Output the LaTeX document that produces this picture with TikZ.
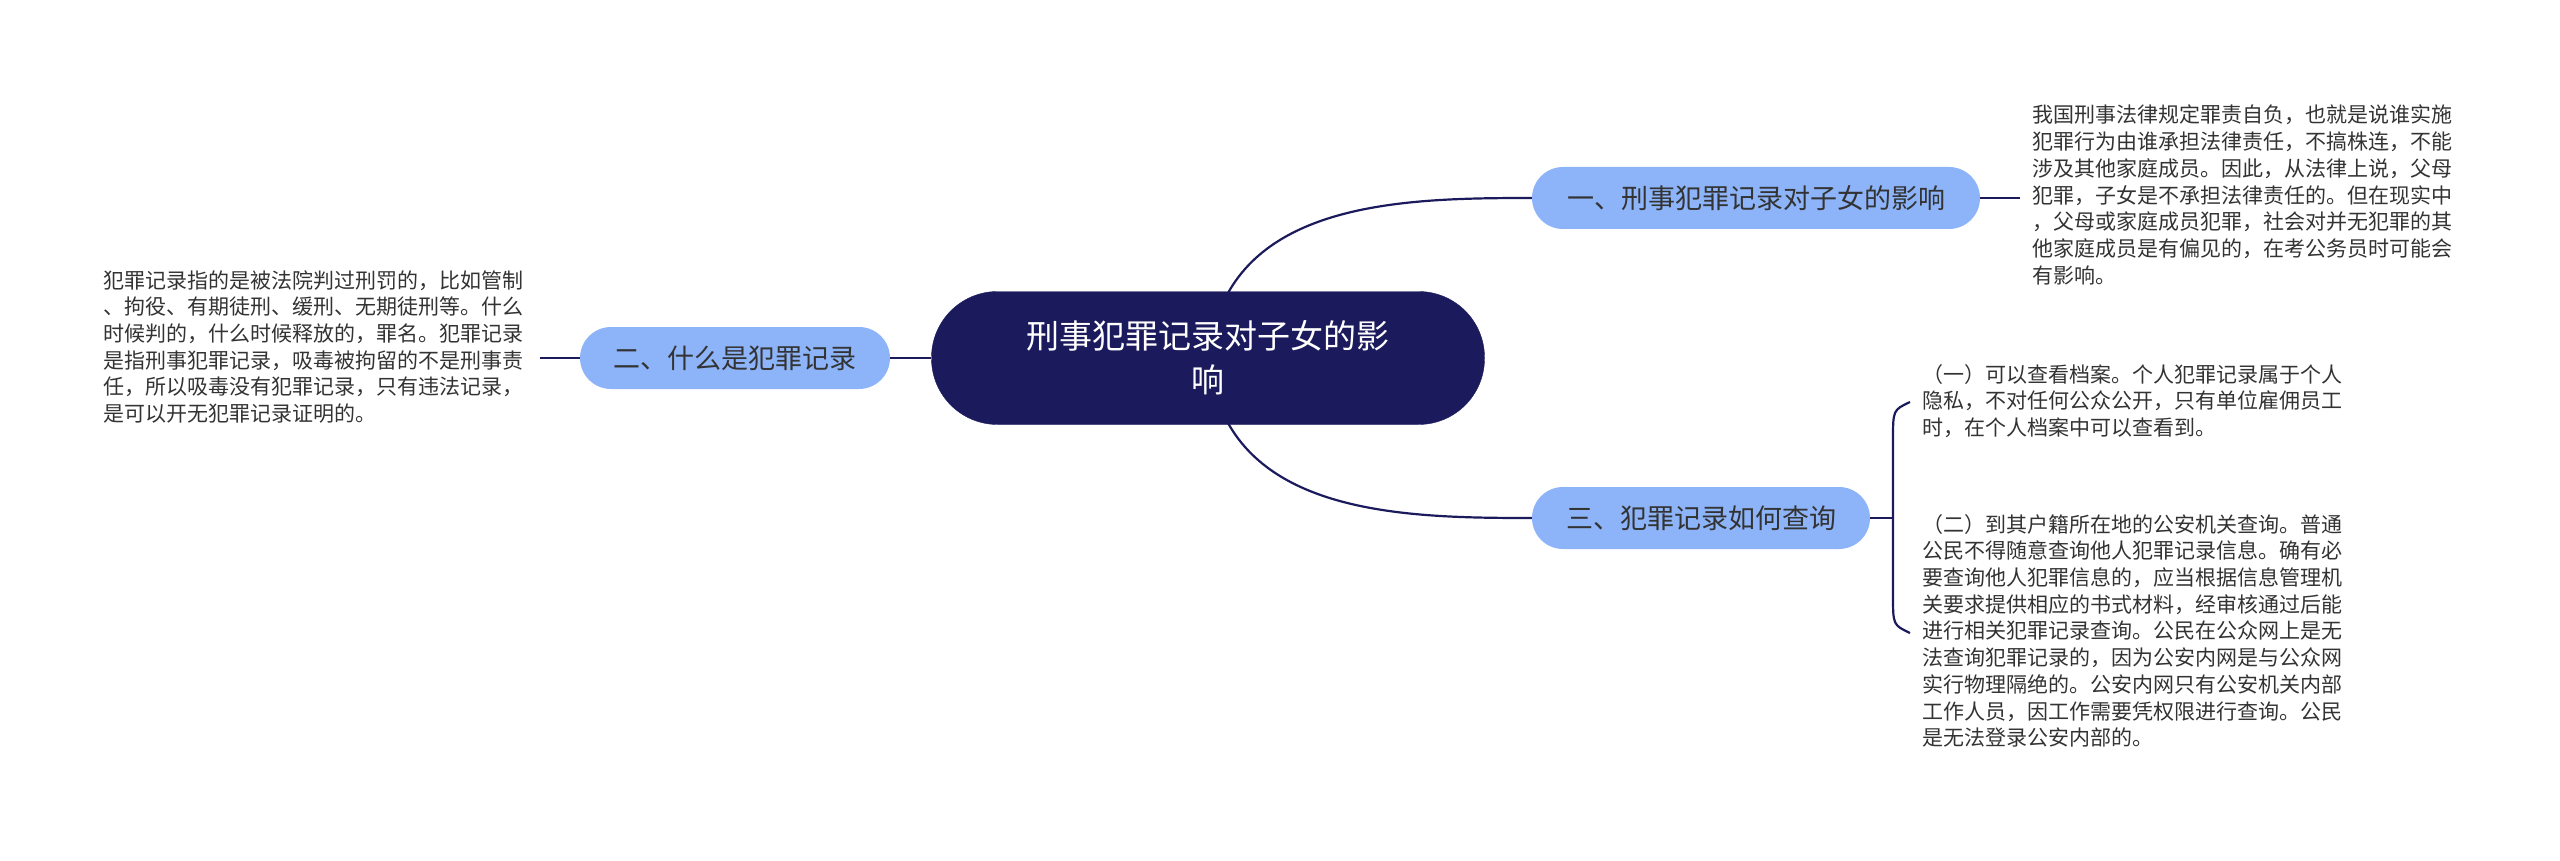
\documentclass[tikz,border=0pt]{standalone}
\usepackage{fontspec}
\setmainfont{Noto Sans CJK SC}
\usetikzlibrary{positioning}

\definecolor{rootBlue}{HTML}{1B1A5C}
\definecolor{branchBlue}{HTML}{8DB4F8}
\definecolor{textGray}{HTML}{333333}

\def\leafFont{\fontsize{21}{26.7}\selectfont}

\tikzset{
  rootnode/.style={fill=rootBlue, draw=rootBlue, rounded corners=66pt, minimum width=553pt, minimum height=133pt, text=white, align=center, font=\fontsize{33}{44}\selectfont},
  branchnode/.style={fill=branchBlue, rounded corners=31pt, minimum height=62pt, inner xsep=30pt, text=textGray, font=\fontsize{27}{32}\selectfont},
  leafnode/.style={inner sep=0pt, anchor=north west, align=left, text=textGray, font=\leafFont},
  link/.style={draw=rootBlue, line width=2.2pt}
}

\begin{document}
\begin{tikzpicture}[x=1pt,y=1pt]
    \useasboundingbox (0,0) rectangle (2560,-861);

    \node[rootnode] (root) at (1208,-358) {刑事犯罪记录对子女的影\\响};

    \node[branchnode, minimum width=448pt] (b1) at (1756,-198) {一、刑事犯罪记录对子女的影响};
    \node[branchnode, minimum width=310pt] (b2) at (735,-358) {二、什么是犯罪记录};
    \node[branchnode, minimum width=338pt] (b3) at (1701,-518) {三、犯罪记录如何查询};

    \node[leafnode] (t1) at (2032,-105) {我国刑事法律规定罪责自负，也就是说谁实施\\犯罪行为由谁承担法律责任，不搞株连，不能\\涉及其他家庭成员。因此，从法律上说，父母\\犯罪，子女是不承担法律责任的。但在现实中\\，父母或家庭成员犯罪，社会对并无犯罪的其\\他家庭成员是有偏见的，在考公务员时可能会\\有影响。};
    \node[leafnode] (t2) at (103,-270) {犯罪记录指的是被法院判过刑罚的，比如管制\\、拘役、有期徒刑、缓刑、无期徒刑等。什么\\时候判的，什么时候释放的，罪名。犯罪记录\\是指刑事犯罪记录，吸毒被拘留的不是刑事责\\任，所以吸毒没有犯罪记录，只有违法记录，\\是可以开无犯罪记录证明的。};
    \node[leafnode] (t3a) at (1922,-364) {（一）可以查看档案。个人犯罪记录属于个人\\隐私，不对任何公众公开，只有单位雇佣员工\\时，在个人档案中可以查看到。};
    \node[leafnode] (t3b) at (1922,-514) {（二）到其户籍所在地的公安机关查询。普通\\公民不得随意查询他人犯罪记录信息。确有必\\要查询他人犯罪信息的，应当根据信息管理机\\关要求提供相应的书式材料，经审核通过后能\\进行相关犯罪记录查询。公民在公众网上是无\\法查询犯罪记录的，因为公安内网是与公众网\\实行物理隔绝的。公安内网只有公安机关内部\\工作人员，因工作需要凭权限进行查询。公民\\是无法登录公安内部的。};

    % root to branches
    \coordinate (r1) at (1228,-293);
    \coordinate (r3) at (1228,-423);
    \draw[link] (r1) .. controls (1280,-200) and (1420,-198) .. (b1.west);
    \draw[link] (r3) .. controls (1280,-516) and (1420,-518) .. (b3.west);
    \draw[link] (root.west) -- (b2.east);

    % branches to leaves
    \coordinate (e1) at (2020,-198);
    \coordinate (e2) at (540,-358);
    \draw[link] (b1.east) -- (e1);
    \draw[link] (b2.west) -- (e2);

    \coordinate (k3) at (1893,-518);
    \coordinate (k3a) at (1910,-402);
    \coordinate (k3b) at (1910,-633);
    \draw[link] (b3.east) -- (k3);
    \draw[link] (k3a) .. controls (1893,-410) .. (1893,-440) -- (1893,-595) .. controls (1893,-625) .. (k3b);
\end{tikzpicture}
\end{document}
